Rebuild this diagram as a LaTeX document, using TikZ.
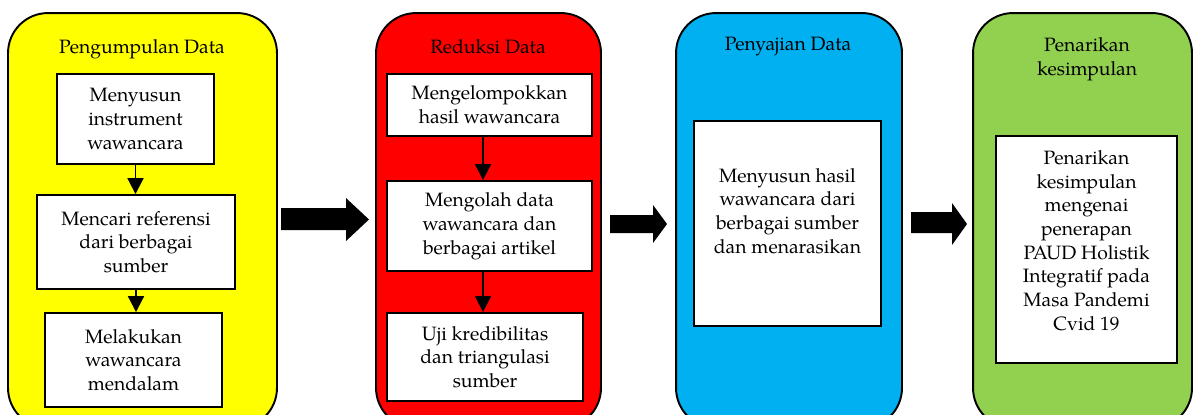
\documentclass[tikz,border=0pt]{standalone}
\usepackage{fontspec}
\setmainfont{TeX Gyre Pagella}
\usetikzlibrary{arrows.meta}

\definecolor{panelyellow}{HTML}{FFFF00}
\definecolor{panelred}{HTML}{FF0000}
\definecolor{panelblue}{HTML}{00B0F0}
\definecolor{panelgreen}{HTML}{92D050}

\tikzset{
  panel/.style={draw, line width=1.1pt, rounded corners=0.8cm, inner sep=0pt},
  stepbox/.style={draw, fill=white, line width=1.1pt, align=center, inner sep=2pt,
                  font=\fontsize{11}{13.5}\selectfont},
  title/.style={align=center, font=\fontsize{11}{13.5}\selectfont},
  flow/.style={line width=1.1pt, -{Triangle[width=9pt,length=9pt]}}
}

\begin{document}
\begin{tikzpicture}[x=0.02cm, y=-0.02cm]
\useasboundingbox (0,0) rectangle (1195,414);
\clip (0,0) rectangle (1195,414);

% the four stages
\node (kumpul) [panel, fill=panelyellow, minimum width=5.38cm, minimum height=8.3cm] at (142.5,220.5) {};
\node (reduksi) [panel, fill=panelred, minimum width=4.5cm, minimum height=8.3cm] at (488.5,220.5) {};
\node (sajian) [panel, fill=panelblue, minimum width=4.52cm, minimum height=8.3cm] at (789,220.5) {};
\node (simpul) [panel, fill=panelgreen, minimum width=4.38cm, minimum height=8.3cm] at (1082.5,220.5) {};

\node (t1) [title] at (142,49) {Pengumpulan Data};
\node (t2) [title] at (488,47) {Reduksi Data};
\node (t3) [title] at (788,47) {Penyajian Data};
\node (t4) [title] at (1087,59) {Penarikan\\kesimpulan};

% pengumpulan data
\node (k1) [stepbox, minimum width=3.14cm, minimum height=1.8cm] at (135.5,119) {Menyusun\\instrument\\wawancara};
\node (k2) [stepbox, minimum width=3.96cm, minimum height=1.88cm] at (136,242) {Mencari referensi\\dari berbagai\\sumber};
\node (k3) [stepbox, minimum width=3.54cm, minimum height=1.88cm] at (133.5,360) {Melakukan\\wawancara\\mendalam};
\draw[flow] (k1.south) -- (k1.south |- k2.north);
\draw[flow] (k2.south) -- (k2.south |- k3.north);

% reduksi data
\node (r1) [stepbox, minimum width=4.1cm, minimum height=1.24cm] at (489.5,105) {Mengelompokkan\\hasil wawancara};
\node (r2) [stepbox, minimum width=4.1cm, minimum height=1.8cm] at (489.5,226) {Mengolah data\\wawancara dan\\berbagai artikel};
\node (r3) [stepbox, minimum width=3.92cm, minimum height=1.76cm] at (485,357) {Uji kredibilitas\\dan triangulasi\\sumber};
\draw[flow] ([xshift=-0.13cm]r1.south) -- ([xshift=-0.13cm]r2.north);
\draw[flow] ([xshift=-0.13cm]r2.south) -- ([xshift=-0.04cm]r3.north);

% penyajian data
\node (s1) [stepbox, minimum width=3.74cm, minimum height=4.1cm] at (787.5,223.5) {Menyusun hasil\\wawancara dari\\berbagai sumber\\dan menarasikan\\[1pt]};

% penarikan kesimpulan
\node (p1) [stepbox, minimum width=3.62cm, minimum height=4.54cm] at (1086.5,249.5) {Penarikan\\kesimpulan\\mengenai\\penerapan\\PAUD Holistik\\Integratif pada\\Masa Pandemi\\Cvid 19\\[-3pt]};

% block arrows between the stages
\fill[black] (281,208) -- (346,208) -- (346,198) -- (369,219.5) -- (346,241) -- (346,230) -- (281,230) -- cycle;
\fill[black] (610,215) -- (653,215) -- (653,205) -- (667,224) -- (653,243) -- (653,233) -- (610,233) -- cycle;
\fill[black] (911,212) -- (952,212) -- (952,203) -- (967,224) -- (952,245) -- (952,233) -- (911,233) -- cycle;

\end{tikzpicture}
\end{document}
